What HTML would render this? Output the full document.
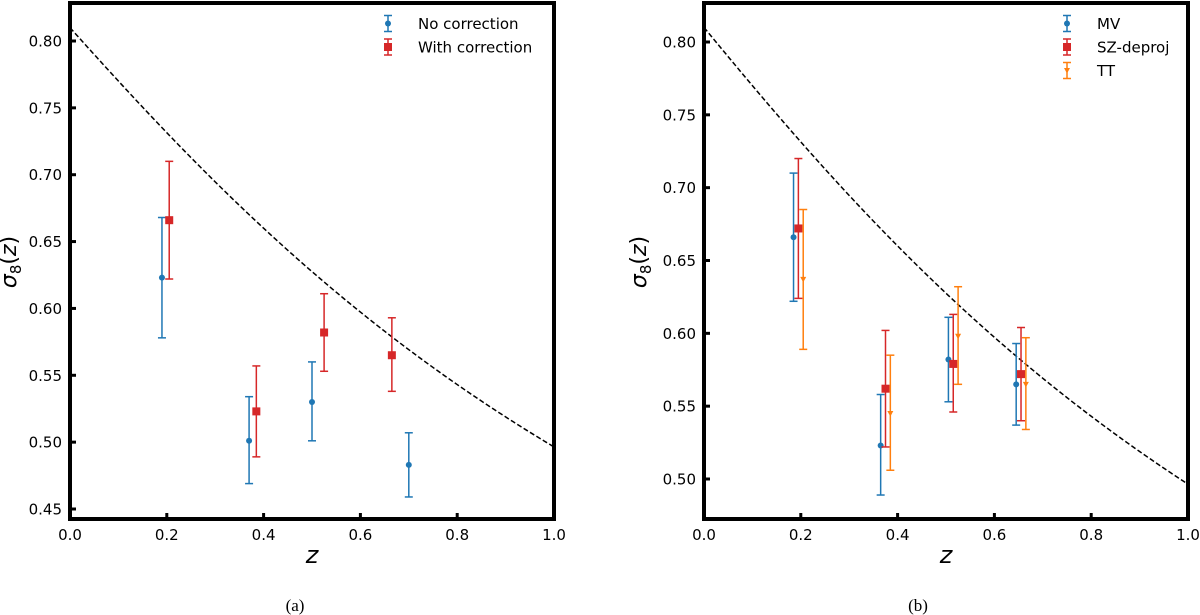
<!DOCTYPE html>
<html><head><meta charset="utf-8"><style>
body{margin:0;background:#fff;}
svg{display:block;font-family:"DejaVu Sans","Liberation Sans",sans-serif;}
</style></head><body>
<svg id="fig" width="1200" height="615"></svg>
<script>
// Panel (a) data
const zNoCorr = [0.19, 0.37, 0.50, 0.70];
const sNoCorr = [0.623, 0.501, 0.530, 0.483];
const loNoCorr = [0.578, 0.469, 0.501, 0.459];
const hiNoCorr = [0.668, 0.534, 0.560, 0.507];
const zWithCorr = [0.205, 0.385, 0.525, 0.665];
const sWithCorr = [0.666, 0.523, 0.582, 0.565];
const loWithCorr = [0.622, 0.489, 0.553, 0.538];
const hiWithCorr = [0.710, 0.557, 0.611, 0.593];
// Panel (b) data
const zMV = [0.185, 0.365, 0.505, 0.645];
const sMV = [0.666, 0.523, 0.582, 0.565];
const loMV = [0.622, 0.489, 0.553, 0.537];
const hiMV = [0.710, 0.558, 0.611, 0.593];
const zSZ = [0.195, 0.375, 0.515, 0.655];
const sSZ = [0.672, 0.562, 0.579, 0.572];
const loSZ = [0.624, 0.522, 0.546, 0.540];
const hiSZ = [0.720, 0.602, 0.613, 0.604];
const zTT = [0.205, 0.385, 0.525, 0.665];
const sTT = [0.637, 0.545, 0.598, 0.565];
const loTT = [0.589, 0.506, 0.565, 0.534];
const hiTT = [0.685, 0.585, 0.632, 0.597];
const xTicks = [0.0, 0.2, 0.4, 0.6, 0.8, 1.0];
const yTicksA = [0.45, 0.50, 0.55, 0.60, 0.65, 0.70, 0.75, 0.80];
const yTicksB = [0.50, 0.55, 0.60, 0.65, 0.70, 0.75, 0.80];
const sigma8_0 = 0.81, omegaM = 0.3;

const NS = "http://www.w3.org/2000/svg";
const svg = document.getElementById('fig');
function mk(tag, attrs, parent, text){
  const e = document.createElementNS(NS, tag);
  for (const k in attrs) e.setAttribute(k, attrs[k]);
  if (text !== undefined) e.textContent = text;
  (parent || svg).appendChild(e);
  return e;
}
function growth(z){
  const a = 1/(1+z), E2 = omegaM/(a*a*a) + (1-omegaM);
  const om = omegaM/(a*a*a)/E2, ol = (1-omegaM)/E2;
  return a*2.5*om/(Math.pow(om,4/7) - ol + (1+om/2)*(1+ol/70));
}
const BLUE="#1f77b4", RED="#d62728", ORANGE="#ff7f0e";

function panel(P){
  const g = mk('g', {}, svg);
  
  
  const X = v => P.x0 + v*(P.x1-P.x0);
  const Y = v => P.yRef + (P.vRef - v)*P.pxPer;
  const g0 = growth(0);
  let d = '';
  for (let i=0;i<=200;i++){ const z=i/200; d += (i?'L':'M') + X(z).toFixed(2) + ',' + Y(sigma8_0*growth(z)/g0).toFixed(2); }
  const curve = mk('path', {d, fill:'none', stroke:'#000', 'stroke-width':1.5, 'stroke-dasharray':'5,2.5'}, g);
  
  
  P.series.forEach(s => {
    const sg = mk('g', {}, g);
    
    
    s.z.forEach((z,i) => {
      const x = X(z);
      mk('line', {x1:x, x2:x, y1:Y(s.lo[i]), y2:Y(s.hi[i]), stroke:s.c, 'stroke-width':1.5}, sg);
      mk('line', {x1:x-4, x2:x+4, y1:Y(s.lo[i]), y2:Y(s.lo[i]), stroke:s.c, 'stroke-width':1.5}, sg);
      mk('line', {x1:x-4, x2:x+4, y1:Y(s.hi[i]), y2:Y(s.hi[i]), stroke:s.c, 'stroke-width':1.5}, sg);
      const y = Y(s.v[i]);
      let m;
      if (s.m==='o') m = mk('circle', {cx:x, cy:y, r:3, fill:s.c}, sg);
      else if (s.m==='s') m = mk('rect', {x:x-4, y:y-4, width:8, height:8, fill:s.c}, sg);
      else m = mk('path', {d:`M${x-3},${y-2.5}L${x+3},${y-2.5}L${x},${y+3}Z`, fill:s.c}, sg);
      
      
    });
  });
  xTicks.forEach(t => {
    mk('line', {x1:X(t), x2:X(t), y1:P.yb, y2:P.yb-6, stroke:'#000', 'stroke-width':3}, g);
    const tl = mk('text', {x:X(t), y:P.yb+21, 'font-size':15, 'text-anchor':'middle'}, g, t.toFixed(1));
    
    
  });
  P.yTicks.forEach(t => {
    mk('line', {x1:P.x0, x2:P.x0+6, y1:Y(t), y2:Y(t), stroke:'#000', 'stroke-width':3}, g);
    const tl = mk('text', {x:P.x0-8, y:Y(t)+5.5, 'font-size':15, 'text-anchor':'end'}, g, t.toFixed(2));
    
    
  });
  const fr = mk('rect', {x:P.x0, y:P.yt, width:P.x1-P.x0, height:P.yb-P.yt, fill:'none', stroke:'#000', 'stroke-width':4}, g);
  
  
  const xl = mk('text', {x:(P.x0+P.x1)/2, y:563, 'font-size':24, 'font-style':'italic', 'text-anchor':'middle'}, g, 'z');
  
  
  const yl = mk('text', {x:0, y:0, 'font-size':22, 'text-anchor':'middle', transform:`translate(${P.ylx},${P.yly}) rotate(-90)`}, g);
  mk('tspan', {'font-style':'italic'}, yl, 'σ');
  mk('tspan', {'font-size':15, dy:5}, yl, '8');
  mk('tspan', {dy:-5}, yl, '(');
  mk('tspan', {'font-style':'italic'}, yl, 'z');
  mk('tspan', {}, yl, ')');
  
  
  const cap = mk('text', {x:P.capx, y:611, 'font-size':17, 'font-family':'"Liberation Serif",serif', 'text-anchor':'middle'}, g, P.caption);
  
  
  const lg = mk('g', {}, g);
  
  
  P.series.forEach((s,i) => {
    const y = 23.5 + i*23.5, x = P.lx;
    const e = mk('g', {}, lg);
    
    
    mk('line', {x1:x, x2:x, y1:y-8, y2:y+8, stroke:s.c, 'stroke-width':1.5}, e);
    mk('line', {x1:x-4, x2:x+4, y1:y-8, y2:y-8, stroke:s.c, 'stroke-width':1.5}, e);
    mk('line', {x1:x-4, x2:x+4, y1:y+8, y2:y+8, stroke:s.c, 'stroke-width':1.5}, e);
    if (s.m==='o') mk('circle', {cx:x, cy:y, r:3, fill:s.c}, e);
    else if (s.m==='s') mk('rect', {x:x-4, y:y-4, width:8, height:8, fill:s.c}, e);
    else mk('path', {d:`M${x-3},${y-2.5}L${x+3},${y-2.5}L${x},${y+3}Z`, fill:s.c}, e);
    mk('text', {x:P.tx, y:y+5.5, 'font-size':15}, e, s.label);
  });
}

panel({name:'panel-a', x0:70, x1:554, yt:3, yb:519, yRef:41, vRef:0.80, pxPer:468/0.35,
  yTicks:yTicksA, ylx:16, yly:262, caption:'(a)', capx:295, lx:388, tx:418,
  series:[
    {name:'series-no-correction', label:'No correction', z:zNoCorr, v:sNoCorr, lo:loNoCorr, hi:hiNoCorr, c:BLUE, m:'o'},
    {name:'series-with-correction', label:'With correction', z:zWithCorr, v:sWithCorr, lo:loWithCorr, hi:hiWithCorr, c:RED, m:'s'}
  ]});
panel({name:'panel-b', x0:704, x1:1188, yt:3, yb:519, yRef:42, vRef:0.80, pxPer:437/0.30,
  yTicks:yTicksB, ylx:646, yly:262, caption:'(b)', capx:918, lx:1067, tx:1097,
  series:[
    {name:'series-mv', label:'MV', z:zMV, v:sMV, lo:loMV, hi:hiMV, c:BLUE, m:'o'},
    {name:'series-sz-deproj', label:'SZ-deproj', z:zSZ, v:sSZ, lo:loSZ, hi:hiSZ, c:RED, m:'s'},
    {name:'series-tt', label:'TT', z:zTT, v:sTT, lo:loTT, hi:hiTT, c:ORANGE, m:'v'}
  ]});
</script>
</body></html>
